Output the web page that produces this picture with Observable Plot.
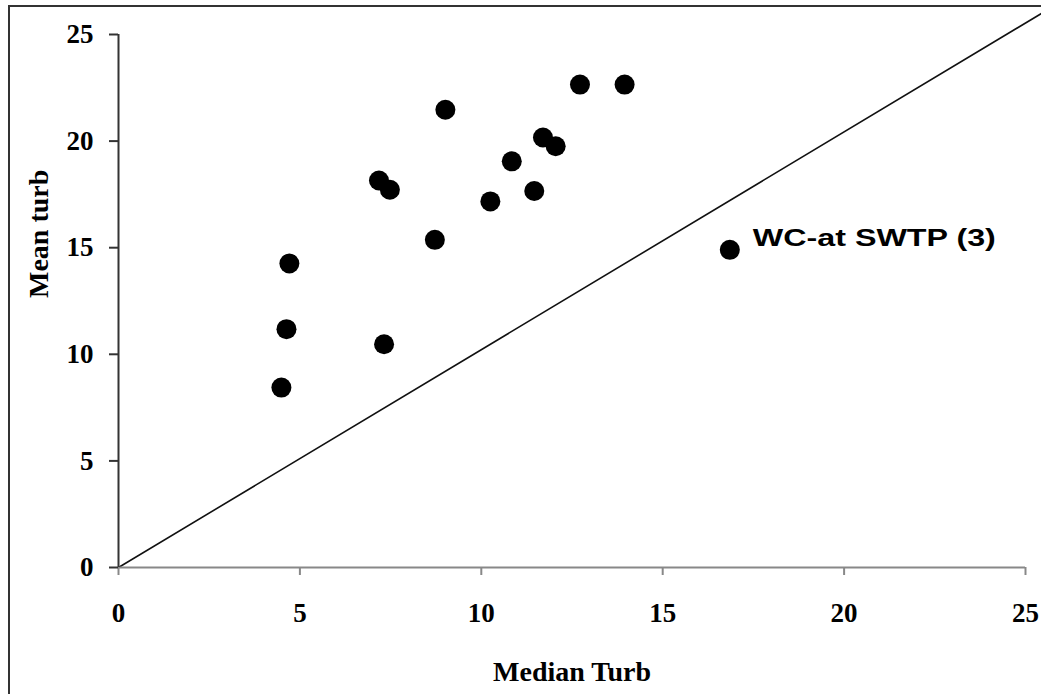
<!DOCTYPE html>
<html>
<head>
<meta charset="utf-8">
<script src="https://cdn.jsdelivr.net/npm/d3@7"></script>
<script src="https://cdn.jsdelivr.net/npm/@observablehq/plot@0.6"></script>
<style>
  html, body { margin: 0; padding: 0; background: #fff; }
  #chart { position: relative; width: 1041px; height: 694px; overflow: hidden; }
  #border { position: absolute; left: 8px; top: 5px; width: 1100px; height: 800px; border: 2px solid #333; box-sizing: border-box; pointer-events: none; }
</style>
</head>
<body>
<div id="chart"><div id="border"></div></div>
<script>
// Data
const medianTurb = [4.49, 4.63, 4.71, 7.32, 7.18, 7.48, 8.72, 9.01, 10.25, 10.84, 11.46, 11.70, 12.05, 12.72, 13.95, 16.85];
const meanTurb   = [8.44, 11.18, 14.26, 10.47, 18.15, 17.72, 15.37, 21.47, 17.17, 19.05, 17.66, 20.17, 19.76, 22.65, 22.65, 14.90];
const labels     = ["", "", "", "", "", "", "", "", "", "", "", "", "", "", "", "WC-at SWTP (3)"];
const refLineX = [0, 25.5];
const refLineY = [0, 26.05];
const ticks = [0, 5, 10, 15, 20, 25];
const xTitle = "Median Turb";
const yTitle = "Mean turb";

const points = medianTurb.map((x, i) => ({x, y: meanTurb[i], label: labels[i]}));
const refLine = refLineX.map((x, i) => ({x, y: refLineY[i]}));

const serif = "'Liberation Serif', 'Times New Roman', serif";

const chart = Plot.plot({
  width: 1041,
  height: 694,
  marginLeft: 118,
  marginRight: 16,
  marginTop: 34,
  marginBottom: 127,
  style: { background: "transparent", overflow: "visible" },
  x: { domain: [0, 25] },
  y: { domain: [0, 25] },
  marks: [
    Plot.line(refLine, { x: "x", y: "y", stroke: "#111", strokeWidth: 1.6, clip: false }),
    Plot.ruleY([0], { stroke: "#888", strokeWidth: 2 }),
    Plot.ruleX([0], { stroke: "#333", strokeWidth: 2 }),
    Plot.axisX({ ticks, tickSize: 8, tickPadding: 27, stroke: "#888", strokeWidth: 2,
      fontSize: 27, fontWeight: "bold", fontFamily: serif, fill: "#000", label: null }),
    Plot.axisY({ ticks, tickSize: 9, tickPadding: 16, stroke: "#333", strokeWidth: 2,
      fontSize: 27, fontWeight: "bold", fontFamily: serif, fill: "#000", label: null }),
    Plot.dot(points, { x: "x", y: "y", r: 10, fill: "#000", stroke: "none" }),
    Plot.text(points.filter(d => d.label), { x: "x", y: "y", text: "label", dx: 23, dy: -12,
      textAnchor: "start", fontSize: 24, fontWeight: "bold", fontFamily: "'Liberation Sans', Arial, sans-serif",
      fill: "#000" }),
    Plot.text([xTitle], { frameAnchor: "bottom", dy: 113, lineAnchor: "bottom",
      fontSize: 28, fontWeight: "bold", fontFamily: serif, fill: "#000" }),
    Plot.text([yTitle], { frameAnchor: "left", dx: -71, dy: -3, rotate: -90, lineAnchor: "bottom",
      fontSize: 28, fontWeight: "bold", fontFamily: serif, fill: "#000" })
  ]
});
// stretch the annotation horizontally like the reference's wide rendering
d3.select(chart).selectAll("text").filter(function() { return this.textContent === labels[15]; })
  .attr("textLength", 243).attr("lengthAdjust", "spacingAndGlyphs");
document.getElementById("chart").prepend(chart);
</script>
</body>
</html>
